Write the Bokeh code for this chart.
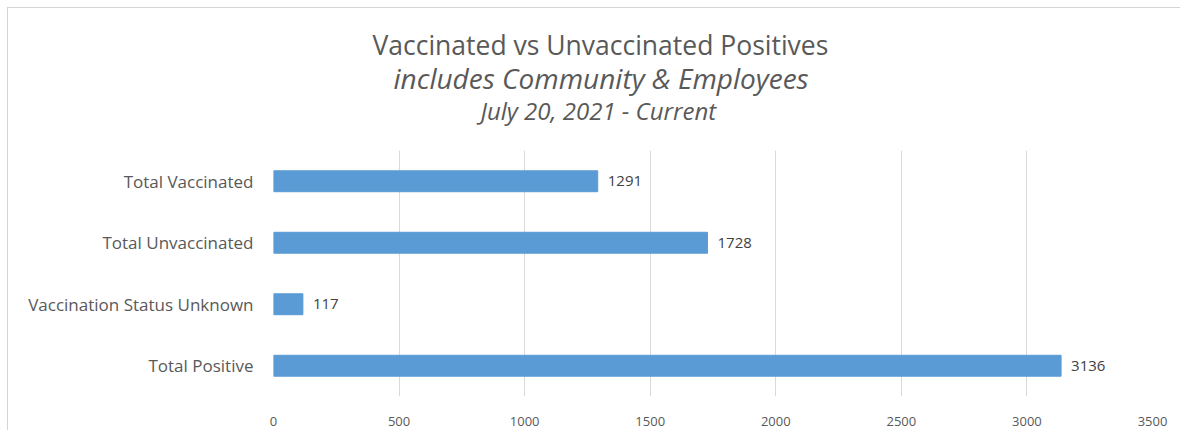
from bokeh.plotting import figure
from bokeh.models import ColumnDataSource, Title, FixedTicker
from bokeh.embed import file_html
from bokeh.resources import INLINE

categories = ["Total Positive", "Vaccination Status Unknown", "Total Unvaccinated", "Total Vaccinated"]
counts = [3136, 117, 1728, 1291]
x_ticks = [0, 500, 1000, 1500, 2000, 2500, 3000, 3500]

title_main = "Vaccinated vs Unvaccinated Positives"
title_sub = "includes Community & Employees"
title_date = "July 20, 2021 - Current"

FONT = "Open Sans"
TXT = "#595959"

src = ColumnDataSource(dict(cat=categories, val=counts, lab=[str(v) for v in counts]))

p = figure(width=1173, height=423, y_range=categories, x_range=(0, 3500),
           output_backend="svg", toolbar_location=None,
           min_border_left=265, min_border_right=29, min_border_top=142, min_border_bottom=35)
p.styles = {"margin-left": "7px", "margin-top": "7px",
            "border-left": "1px solid #d4d4d4", "border-top": "1px solid #d4d4d4"}

p.hbar(y="cat", right="val", height=0.34, source=src, color="#5b9bd5")
p.text(x="val", y="cat", text="lab", source=src, x_offset=10, text_baseline="middle",
       text_align="left", text_font_size="15px", text_color="#404040", text_font={"value": FONT})

p.outline_line_color = None
p.ygrid.grid_line_color = None
p.xgrid.grid_line_color = "#d9d9d9"
p.xaxis.ticker = FixedTicker(ticks=x_ticks)
for ax in (p.xaxis, p.yaxis):
    ax.axis_line_color = None
    ax.major_tick_line_color = None
    ax.minor_tick_line_color = None
    ax.major_label_text_font = FONT
    ax.major_label_text_color = TXT
p.yaxis.major_label_text_font_size = "17px"
p.xaxis.major_label_text_font_size = "13px"
p.xaxis.major_label_standoff = 14
p.yaxis.major_label_standoff = 14

# spacer between the frame and the title block
p.add_layout(Title(text=" ", text_font_size="1px", text_color="white", standoff=22), "above")
for txt, size, style, st, off in [(title_date, "24px", "italic", -3.8, 207),
                                  (title_sub, "28px", "italic", -5, 120),
                                  (title_main, "26.5px", "normal", -7.5, 99)]:
    p.add_layout(Title(text=txt, align="left", offset=off, text_font=FONT,
                       text_font_size=size, text_font_style=style, text_color=TXT,
                       standoff=st), "above")

open("out.html", "w").write(file_html(p, INLINE))
